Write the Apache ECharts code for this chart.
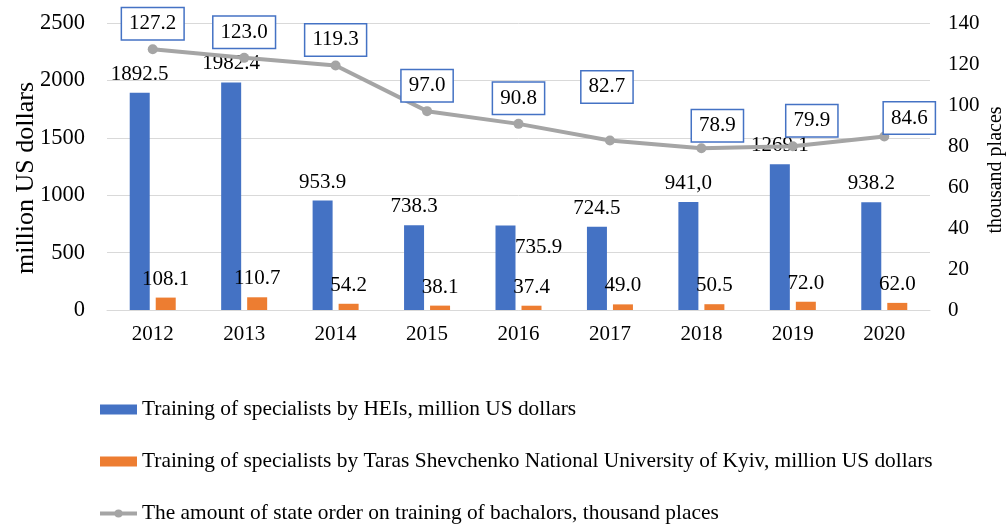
<!DOCTYPE html>
<html>
<head>
<meta charset="utf-8">
<script src="https://cdn.jsdelivr.net/npm/echarts@6/dist/echarts.min.js"></script>
<style>html,body{margin:0;padding:0;background:#fff}#c{width:1008px;height:524px}</style>
</head>
<body>
<div id="c"></div>
<script>
const years = ['2012','2013','2014','2015','2016','2017','2018','2019','2020'];
const heiValues = [1892.5, 1982.4, 953.9, 738.3, 735.9, 724.5, 941.0, 1269.1, 938.2];
const heiLabels = ['1892.5','1982.4','953.9','738.3','735.9','724.5','941,0','1269.1','938.2'];
const knuValues = [108.1, 110.7, 54.2, 38.1, 37.4, 49.0, 50.5, 72.0, 62.0];
const stateOrder = [127.2, 123.0, 119.3, 97.0, 90.8, 82.7, 78.9, 79.9, 84.6];
const leftTicks = [0, 500, 1000, 1500, 2000, 2500];
const rightTicks = [0, 20, 40, 60, 80, 100, 120, 140];
const seriesNames = [
  'Training of specialists by HEIs, million US dollars',
  'Training of specialists by Taras Shevchenko National University of Kyiv, million US dollars',
  'The amount of state order on training of bachalors, thousand places'
];

// label placement tweaks (manual placements in the original)
const heiLabelOffsets = [null,null,null,null,[33,40],null,null,null,null];
const stateLabelOffsets = [[0,0],[0,0],[0,0],[0,0],[0,0],[-3,-28],[16,3],[19,0],[25,7]];

const FONT = '"Liberation Serif","Times New Roman",serif';
const chart = echarts.init(document.getElementById('c'));
chart.setOption({
  animation: false,
  textStyle: { fontFamily: FONT, color: '#000' },
  grid: { left: 107, right: 78, top: 23, bottom: 214, containLabel: false, outerBoundsMode: 'none' },
  legend: {
    orient: 'vertical', left: 98, top: 399, height: 200, itemGap: 31, padding: 0,
    itemWidth: 37, itemHeight: 10,
    textStyle: { fontFamily: FONT, fontSize: 21.4, color: '#000' },
    data: [
      { name: seriesNames[0], icon: 'rect' },
      { name: seriesNames[1], icon: 'rect' },
      { name: seriesNames[2], lineStyle: { width: 4 } }
    ]
  },
  xAxis: {
    type: 'category', data: years,
    axisLine: { lineStyle: { color: '#D9D9D9' } },
    axisTick: { show: false },
    axisLabel: { fontFamily: FONT, fontSize: 21, color: '#000', margin: 14 }
  },
  yAxis: [
    {
      type: 'value', min: leftTicks[0], max: leftTicks[leftTicks.length-1], interval: 500,
      name: 'million US dollars', nameLocation: 'middle', nameGap: 68, nameRotate: 90,
      nameMoveOverlap: false,
      nameTextStyle: { fontFamily: FONT, fontSize: 26, color: '#000', padding: [0, 23, 0, 0] },
      axisLine: { show: false }, axisTick: { show: false },
      axisLabel: { fontFamily: FONT, fontSize: 22.5, color: '#000', margin: 22, formatter: v => String(v) },
      splitLine: { lineStyle: { color: '#D9D9D9', width: 1 } }
    },
    {
      type: 'value', min: rightTicks[0], max: rightTicks[rightTicks.length-1], interval: 20,
      name: 'thousand places', nameLocation: 'middle', nameGap: 56, nameRotate: 90,
      nameMoveOverlap: false,
      nameTextStyle: { fontFamily: FONT, fontSize: 20, color: '#000', padding: [0, 7, 0, 0] },
      axisLine: { show: false }, axisTick: { show: false },
      axisLabel: { fontFamily: FONT, fontSize: 21, color: '#000', margin: 18, formatter: v => String(v) },
      splitLine: { show: false }
    }
  ],
  series: [
    {
      name: seriesNames[0], type: 'bar', yAxisIndex: 0,
      barWidth: 20, barGap: '30%',
      itemStyle: { color: '#4472C4' },
      data: heiValues.map((v, i) => {
        const d = { value: v };
        if (heiLabelOffsets[i]) d.label = { offset: heiLabelOffsets[i] };
        return d;
      }),
      label: {
        show: true, position: 'top', distance: 8,
        fontFamily: FONT, fontSize: 21, color: '#000',
        formatter: p => heiLabels[p.dataIndex]
      },
      z: 2
    },
    {
      name: seriesNames[1], type: 'bar', yAxisIndex: 0,
      barWidth: 20, barGap: '30%',
      itemStyle: { color: '#ED7D31' },
      data: knuValues,
      label: {
        show: true, position: 'top', distance: 8,
        fontFamily: FONT, fontSize: 21, color: '#000',
        formatter: p => p.value.toFixed(1)
      },
      z: 2
    },
    {
      name: seriesNames[2], type: 'line', yAxisIndex: 1,
      symbol: 'circle', symbolSize: 10,
      lineStyle: { color: '#A5A5A5', width: 4 },
      itemStyle: { color: '#A5A5A5' },
      data: stateOrder.map((v, i) => ({ value: v, label: { offset: stateLabelOffsets[i] } })),
      label: {
        show: true, position: 'top', distance: 5,
        fontFamily: FONT, fontSize: 21, color: '#000',
        backgroundColor: '#fff', borderColor: '#4472C4', borderWidth: 1.5,
        padding: [5, 7, 5, 7],
        formatter: p => p.value.toFixed(1)
      },
      z: 5
    }
  ]
});
</script>
</body>
</html>
